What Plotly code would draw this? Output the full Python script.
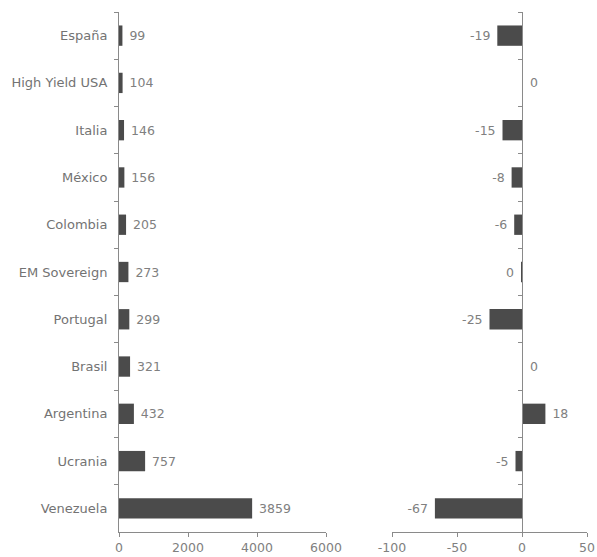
import plotly.graph_objects as go

categories = ["España", "High Yield USA", "Italia", "México", "Colombia", "EM Sovereign",
              "Portugal", "Brasil", "Argentina", "Ucrania", "Venezuela"]
spread = [99, 104, 146, 156, 205, 273, 299, 321, 432, 757, 3859]
change = [-19, 0.3, -15, -8, -6, -0.1, -25, 0.3, 18, -5, -67]
left_ticks = [0, 2000, 4000, 6000]
right_ticks = [-100, -50, 0, 50]

spread_labels = ["\u00a0" + str(v) for v in spread]
change_labels = []
for v in change:
    t = str(abs(int(round(v)))) if round(v) == 0 else str(int(round(v)))
    change_labels.append(("\u00a0" + t) if v > 0 else (t + "\u00a0"))

W, H = 597, 557
GRAY = "#808080"
AX = "#8a8a8a"
BAR = "#4b4b4b"
FONT = "DejaVu Sans"

fig = go.Figure()
fig.add_trace(go.Bar(
    y=categories, x=spread, orientation="h", xaxis="x", yaxis="y",
    marker=dict(color=BAR, line=dict(color="#3c3c3c", width=0)),
    width=0.43, text=spread_labels, textposition="outside", cliponaxis=False,
    textfont=dict(family=FONT, size=12.5, color=GRAY), showlegend=False,
))
fig.add_trace(go.Bar(
    y=categories, x=change, orientation="h", xaxis="x2", yaxis="y2",
    marker=dict(color=BAR, line=dict(color="#3c3c3c", width=0)),
    width=0.43, text=change_labels, textposition="outside", cliponaxis=False,
    textfont=dict(family=FONT, size=12.5, color=GRAY), showlegend=False,
))

ydom = [1 - 532 / H, 1 - 12 / H]
yax = dict(categoryorder="array", categoryarray=categories, autorange="reversed",
           showline=True, linecolor=AX, linewidth=1, ticks="outside", ticklen=4,
           tickcolor=AX, tickson="boundaries", showgrid=False, zeroline=False,
           domain=ydom, automargin=False)

fig.update_layout(
    width=W, height=H, margin=dict(l=0, r=0, t=0, b=0),
    paper_bgcolor="white", plot_bgcolor="white",
    font=dict(family=FONT, size=12, color=GRAY),
    xaxis=dict(domain=[119 / W, 326 / W], range=[0, 6000], tickvals=left_ticks,
               ticktext=[str(v) for v in left_ticks],
               showline=True, linecolor=AX, ticks="outside", ticklen=4, tickcolor=AX,
               showgrid=False, zeroline=False, anchor="y", automargin=False,
               tickfont=dict(family=FONT, size=12.5, color=GRAY)),
    yaxis=dict(**yax, anchor="x", ticklabelstandoff=8,
               tickfont=dict(family=FONT, size=13, color="#737373")),
    xaxis2=dict(domain=[392 / W, 587 / W], range=[-100, 50], tickvals=right_ticks,
                ticktext=[str(v) for v in right_ticks],
                showline=True, linecolor=AX, ticks="outside", ticklen=4, tickcolor=AX,
                showgrid=False, zeroline=False, anchor="y2", automargin=False,
                tickfont=dict(family=FONT, size=12.5, color=GRAY)),
    yaxis2=dict(**yax, anchor="free", position=522 / W, showticklabels=False),
)

fig.write_html("out.html")
